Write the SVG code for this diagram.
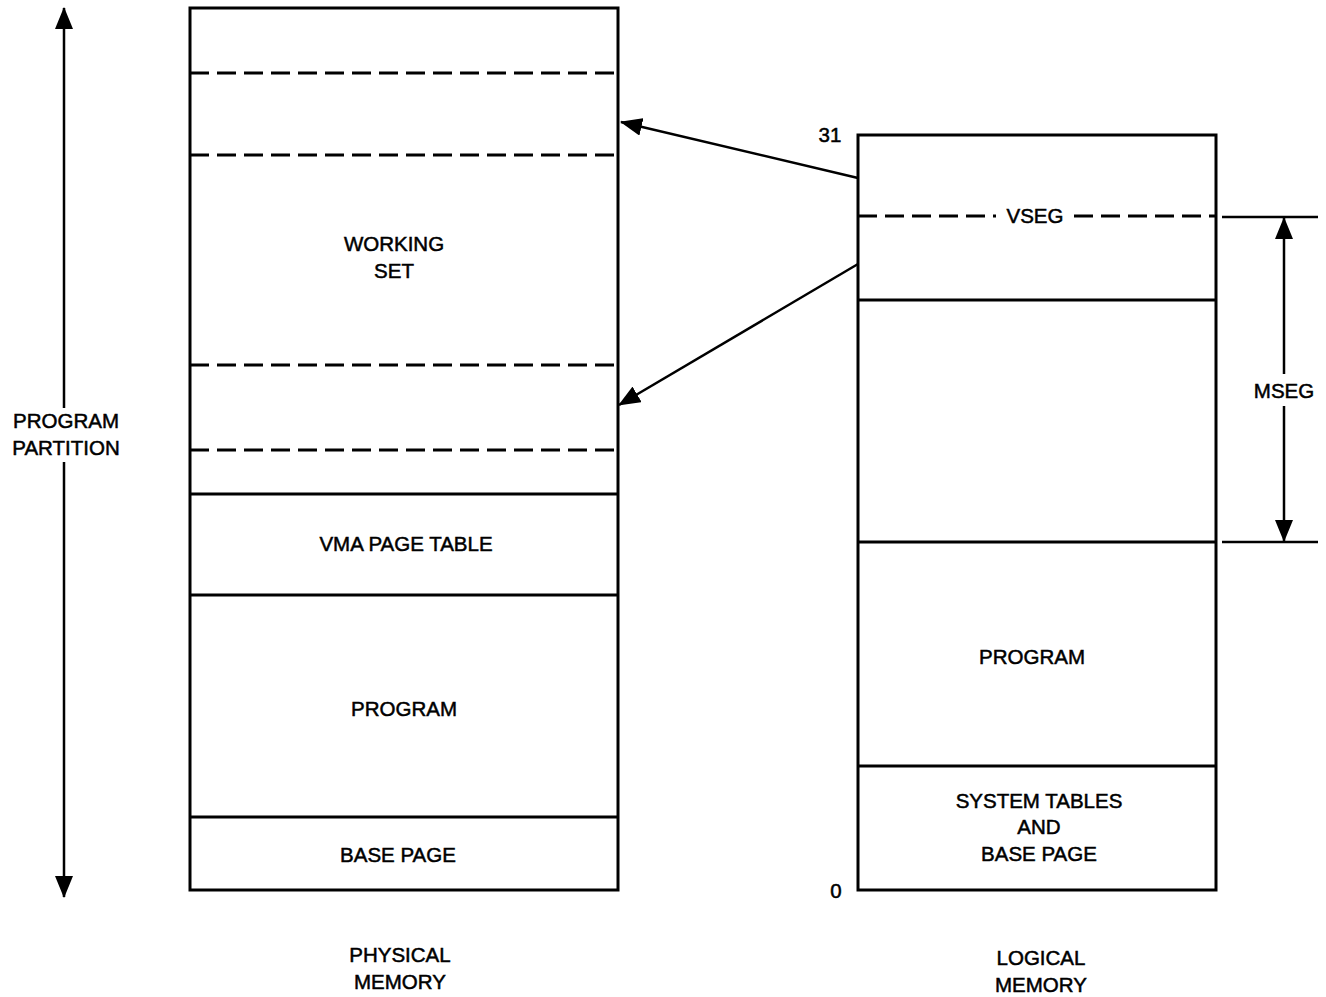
<svg xmlns="http://www.w3.org/2000/svg" width="1326" height="997" viewBox="0 0 1326 997">
  <style>
    .box { fill: none; stroke: #000; stroke-width: 3; }
    .solid { stroke: #000; stroke-width: 3; fill: none; }
    .dash { stroke: #000; stroke-width: 3; stroke-dasharray: 19 8; fill: none; }
    .thin { stroke: #000; stroke-width: 2.5; fill: none; }
    .lbl { font-family: "Liberation Sans", Arial, sans-serif; font-size: 20.5px; fill: #000; stroke: #000; stroke-width: 0.5; text-anchor: middle; }
  </style>
  <defs>
    <marker id="head" viewBox="0 0 22 18" refX="21" refY="9" markerWidth="22" markerHeight="18" markerUnits="userSpaceOnUse" orient="auto">
      <path d="M0,0 L22,9 L0,18 Z" fill="#000"/>
    </marker>
  </defs>
  <rect width="1326" height="997" fill="#fff"/>

  <!-- physical memory column -->
  <g id="physical-memory">
    <rect class="box" x="190" y="8" width="428" height="882"/>
    <line class="dash" x1="190" y1="73" x2="618" y2="73"/>
    <line class="dash" x1="190" y1="155" x2="618" y2="155"/>
    <line class="dash" x1="190" y1="365" x2="618" y2="365"/>
    <line class="dash" x1="190" y1="450" x2="618" y2="450"/>
    <line class="solid" x1="190" y1="494" x2="618" y2="494"/>
    <line class="solid" x1="190" y1="595" x2="618" y2="595"/>
    <line class="solid" x1="190" y1="817" x2="618" y2="817"/>
    <text class="lbl" x="394" y="251">WORKING</text>
    <text class="lbl" x="394" y="278">SET</text>
    <text class="lbl" x="406" y="551">VMA PAGE TABLE</text>
    <text class="lbl" x="404" y="716">PROGRAM</text>
    <text class="lbl" x="398" y="862">BASE PAGE</text>
    <text class="lbl" x="400" y="962">PHYSICAL</text>
    <text class="lbl" x="400" y="989">MEMORY</text>
  </g>

  <!-- logical memory column -->
  <g id="logical-memory">
    <rect class="box" x="858" y="135" width="358" height="755"/>
    <line class="dash" x1="858" y1="216" x2="996" y2="216"/>
    <line class="dash" x1="1074" y1="216" x2="1216" y2="216"/>
    <line class="solid" x1="858" y1="300" x2="1216" y2="300"/>
    <line class="solid" x1="858" y1="542" x2="1216" y2="542"/>
    <line class="solid" x1="858" y1="766" x2="1216" y2="766"/>
    <text class="lbl" x="1035" y="223">VSEG</text>
    <text class="lbl" x="1032" y="664">PROGRAM</text>
    <text class="lbl" x="1039" y="808">SYSTEM TABLES</text>
    <text class="lbl" x="1039" y="834">AND</text>
    <text class="lbl" x="1039" y="861">BASE PAGE</text>
    <text class="lbl" x="830" y="142">31</text>
    <text class="lbl" x="836" y="898">0</text>
    <text class="lbl" x="1041" y="965">LOGICAL</text>
    <text class="lbl" x="1041" y="992">MEMORY</text>
  </g>

  <!-- program partition extent -->
  <g id="program-partition">
    <line class="thin" x1="64" y1="408" x2="64" y2="8" marker-end="url(#head)"/>
    <line class="thin" x1="64" y1="462" x2="64" y2="897" marker-end="url(#head)"/>
    <text class="lbl" x="66" y="428">PROGRAM</text>
    <text class="lbl" x="66" y="455">PARTITION</text>
  </g>

  <!-- mseg extent -->
  <g id="mseg">
    <line class="thin" x1="1222" y1="217" x2="1318" y2="217"/>
    <line class="thin" x1="1222" y1="542" x2="1318" y2="542"/>
    <line class="thin" x1="1284" y1="374" x2="1284" y2="218" marker-end="url(#head)"/>
    <line class="thin" x1="1284" y1="406" x2="1284" y2="541" marker-end="url(#head)"/>
    <text class="lbl" x="1284" y="398">MSEG</text>
  </g>

  <!-- mapping connectors -->
  <g id="connectors">
    <line class="thin" x1="858" y1="178" x2="621" y2="122" marker-end="url(#head)"/>
    <line class="thin" x1="858" y1="264" x2="619" y2="405" marker-end="url(#head)"/>
  </g>
</svg>
